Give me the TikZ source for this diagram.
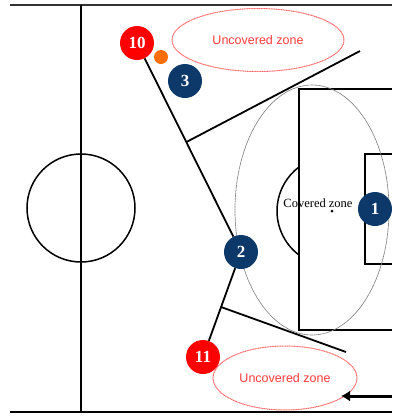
\documentclass[tikz,border=0pt]{standalone}
\usepackage{fontspec}
\setmainfont{Liberation Serif}
\newfontfamily\zonefont{Liberation Sans}
\usepackage{xcolor}
\usetikzlibrary{arrows.meta,calc,shapes.geometric}
\definecolor{navy}{RGB}{12,56,106}
\definecolor{zonetext}{RGB}{255,60,60}
\definecolor{zoneline}{RGB}{255,105,105}
\definecolor{ballorange}{RGB}{255,110,0}

\begin{document}
\begin{tikzpicture}[x=1pt,y=-1pt,
	field/.style={line width=1.5pt},
	markline/.style={line width=1.8pt},
	player/.style={circle,fill=navy,minimum size=34pt,inner sep=0pt,text=white,font=\fontsize{17}{17}\selectfont\bfseries},
	rival/.style={player,fill=red},
	zone/.style={ellipse,draw=zoneline,dash pattern=on 1.2pt off 0.5pt,line width=1pt,inner sep=0pt,text=zonetext,font=\zonefont\fontsize{12.5}{12.5}\selectfont}]
		\useasboundingbox (0,0) rectangle (392,416);
		%
		\draw[line width=2pt,black!80] (10,5) -- (392,5);
		\draw[line width=2.5pt] (10,412) -- (392,412);
		\draw[field] (81,5) -- (81,412);
		\draw[field] (81,208) circle (54);
		\draw[markline] (392,89) -- (299,89) -- (299,330) -- (392,330);
		\draw[markline] (392,154) -- (365,154) -- (365,264) -- (392,264);
		\node (spot) at (332,211) {};
		\draw[field] ($(spot.center)+(127:55)$) arc[start angle=127,end angle=233,radius=55];
		\fill (spot.center) circle (1.5);
		\draw[gray,dash pattern=on 1.2pt off 0.4pt,line width=0.7pt] (312,210) ellipse [x radius=77,y radius=125];
		\node[font=\fontsize{12.5}{12.5}\selectfont] (covered) at (318,203) {Covered zone};
		%
		\node[zone,minimum width=172pt,minimum height=63pt] (upzone) at (258,40) {Uncovered zone};
		\node[zone,minimum width=144pt,minimum height=64pt] (lowzone) at (285,378) {Uncovered zone};
		%
		\node[rival] (p10) at (137,43) {10};
		\node[player] (p3) at (185,81) {3};
		\node[player] (p1) at (375,209) {1};
		\node[player] (p2) at (241,252) {2};
		\node[rival] (p11) at (203,357) {11};
		\node[circle,fill=ballorange,minimum size=14pt,inner sep=0pt] (ball) at (161,57) {};
		%
		\coordinate (k1) at ($(p10)!0.474!(p2)$);
		\coordinate (e1) at (360,51);
		\coordinate (k2) at ($(p2)!0.524!(p11)$);
		\coordinate (e2) at (346,352);
		\coordinate (a0) at (392,396);
		\coordinate (a1) at (341,396);
		\path[markline]
		(p10) edge (p2)
		(k1) edge (e1)
		(p2) edge (p11)
		(k2) edge (e2);
		\draw[line width=3pt,-{Latex[length=9pt,width=11pt]}] (a0) -- (a1);
	\end{tikzpicture}
\end{document}
